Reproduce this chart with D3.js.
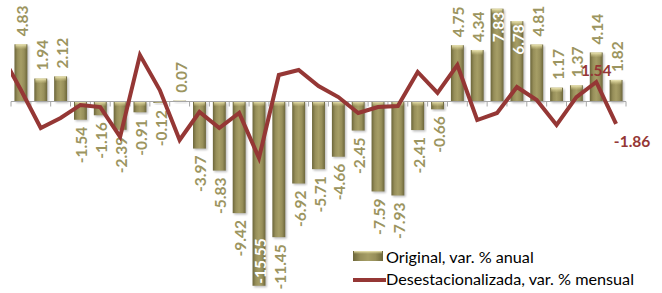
<!DOCTYPE html>
<html>
<head>
<meta charset="utf-8">
<script src="https://cdn.jsdelivr.net/npm/d3@7"></script>
<style>
  body { margin: 0; background: #fff; }
  svg { display: block; }
</style>
</head>
<body>
<svg id="chart"></svg>
<script>
// periodos (sin etiquetas visibles en el eje)
const periods = d3.range(1, 32);
// Original, var. % anual
const original = [4.83, 1.94, 2.12, -1.54, -1.16, -2.39, -0.91, -0.12, 0.07, -3.97,
  -5.83, -9.42, -15.55, -11.45, -6.92, -5.71, -4.66, -2.45, -7.59, -7.93,
  -2.41, -0.66, 4.75, 4.34, 7.83, 6.78, 4.81, 1.17, 1.37, 4.14, 1.82];
// Desestacionalizada, var. % mensual
const desest = [0.89, -2.19, -1.38, -0.32, -0.49, -2.91, 3.72, 0.89, -3.16, -0.89,
  -2.19, -0.97, -4.62, 2.11, 2.51, 1.21, 0.32, -0.97, -0.49, -0.40,
  2.35, 0.65, 2.91, -1.54, -0.97, 1.13, 0.08, -1.94, 0.32, 1.54, -1.86];
const desestPrev = 3.81; // periodo anterior, recortado por el área de trazado
const legendLabels = ["Original, var. % anual", "Desestacionalizada, var. % mensual"];

const W = 662, H = 293;
const svg = d3.select("#chart").attr("width", W).attr("height", H);

const x = d3.scaleBand().domain(periods).range([11, 626]).paddingInner(0.35).paddingOuter(0.175);
const y = d3.scaleLinear().domain([-16, 8]).range([101.5 + 16 * 11.85, 101.5 - 8 * 11.85]);
const y2 = d3.scaleLinear().domain([-16, 8]).range([101 + 16 * 12.35, 101 - 8 * 12.35]);
const xc = i => x(periods[0]) + x.step() * i + x.bandwidth() / 2;

const defs = svg.append("defs");
let g1 = defs.append("linearGradient").attr("id", "barGrad").attr("x1", 0).attr("x2", 1).attr("y1", 0).attr("y2", 0);
g1.append("stop").attr("offset", "0%").attr("stop-color", "#6c663a");
g1.append("stop").attr("offset", "25%").attr("stop-color", "#978f5a");
g1.append("stop").attr("offset", "50%").attr("stop-color", "#a69e66");
g1.append("stop").attr("offset", "75%").attr("stop-color", "#978f5a");
g1.append("stop").attr("offset", "100%").attr("stop-color", "#6c663a");
let g2 = defs.append("linearGradient").attr("id", "capGrad").attr("x1", 0).attr("x2", 0).attr("y1", 0).attr("y2", 1);
g2.append("stop").attr("offset", "0%").attr("stop-color", "#f4eebc").attr("stop-opacity", 0.95);
g2.append("stop").attr("offset", "100%").attr("stop-color", "#d8cf8e").attr("stop-opacity", 0);
defs.append("filter").attr("id", "blur").append("feGaussianBlur").attr("stdDeviation", 1);
defs.append("clipPath").attr("id", "plotClip").append("rect")
  .attr("x", 11).attr("y", 0).attr("width", 640).attr("height", H);

// sombras
svg.append("g").selectAll("rect").data(original).join("rect")
  .attr("x", (d, i) => x(periods[i]) + 1.5)
  .attr("y", d => Math.min(y(d), y(0)) + 1.5)
  .attr("width", x.bandwidth())
  .attr("height", d => Math.abs(y(d) - y(0)))
  .attr("fill", "#000").attr("opacity", 0.25).attr("filter", "url(#blur)");

// barras
const bars = svg.append("g");
bars.selectAll("rect.bar").data(original).join("rect").attr("class", "bar")
  .attr("x", (d, i) => x(periods[i]))
  .attr("y", d => Math.min(y(d), y(0)))
  .attr("width", x.bandwidth())
  .attr("height", d => Math.abs(y(d) - y(0)))
  .attr("fill", "url(#barGrad)");
bars.selectAll("rect.cap").data(original).join("rect").attr("class", "cap")
  .attr("x", (d, i) => x(periods[i]) + 1)
  .attr("y", d => Math.min(y(d), y(0)))
  .attr("width", x.bandwidth() - 2)
  .attr("height", d => Math.min(5, Math.abs(y(d) - y(0))))
  .attr("fill", "url(#capGrad)");

// eje
svg.append("line").attr("x1", 11).attr("x2", 626).attr("y1", y(0)).attr("y2", y(0))
  .attr("stroke", "#a6a6a6").attr("stroke-width", 1);
svg.append("g").selectAll("line").data(d3.range(periods.length + 1)).join("line")
  .attr("x1", i => x.range()[0] + i * x.step()).attr("x2", i => x.range()[0] + i * x.step())
  .attr("y1", y(0)).attr("y2", y(0) + 5)
  .attr("stroke", "#a6a6a6").attr("stroke-width", 1);

// etiquetas de barras
const inside = new Set([7.83, 6.78, -15.55]);
svg.append("g").selectAll("text").data(original).join("text")
  .attr("transform", (d, i) => {
    let ty;
    if (inside.has(d)) ty = d > 0 ? y(d) + 3 : y(d) - 2;
    else ty = d >= 0 ? y(d) - 8 : y(d) + 7;
    return `translate(${xc(i) + 1},${ty}) rotate(-90)`;
  })
  .attr("text-anchor", d => inside.has(d) ? (d > 0 ? "end" : "start") : (d >= 0 ? "start" : "end"))
  .attr("dominant-baseline", "central")
  .style("font-family", "Lato, sans-serif").style("font-weight", "bold").style("font-size", "15.5px")
  .attr("fill", d => inside.has(d) ? "#ffffff" : "#9c9560")
  .text(d => d.toFixed(2));

// línea desestacionalizada
const linePts = [[xc(-1), y2(desestPrev)]].concat(desest.map((d, i) => [xc(i), y2(d)]));
svg.append("path").attr("d", d3.line()(linePts))
  .attr("clip-path", "url(#plotClip)")
  .attr("fill", "none").attr("stroke", "#953735").attr("stroke-width", 4)
  .attr("stroke-linejoin", "miter");

const n = desest.length;
svg.append("text").attr("x", xc(n - 2)).attr("y", y2(desest[n - 2]) - 6)
  .attr("text-anchor", "middle")
  .style("font-family", "Lato, sans-serif").style("font-weight", "bold").style("font-size", "15.5px")
  .attr("fill", "#953735").text(desest[n - 2].toFixed(2));
svg.append("text").attr("x", xc(n - 1) + 16).attr("y", y2(desest[n - 1]) + 23)
  .attr("text-anchor", "middle")
  .style("font-family", "Lato, sans-serif").style("font-weight", "bold").style("font-size", "15.5px")
  .attr("fill", "#953735").text(desest[n - 1].toFixed(2));

// leyenda
const leg = svg.append("g").attr("transform", "translate(353,0)");
leg.append("rect").attr("x", 0).attr("y", 251).attr("width", 30).attr("height", 10).attr("fill", "url(#barGrad)");
leg.append("rect").attr("x", 1).attr("y", 251).attr("width", 28).attr("height", 3).attr("fill", "url(#capGrad)");
leg.append("line").attr("x1", 0).attr("x2", 33).attr("y1", 280).attr("y2", 280)
  .attr("stroke", "#953735").attr("stroke-width", 4);
leg.selectAll("text").data(legendLabels).join("text")
  .attr("x", 33).attr("y", (d, i) => 262.5 + i * 22.5)
  .style("font-family", "Lato, sans-serif").style("font-size", "16.2px")
  .attr("fill", "#000").text(d => d);
</script>
</body>
</html>
